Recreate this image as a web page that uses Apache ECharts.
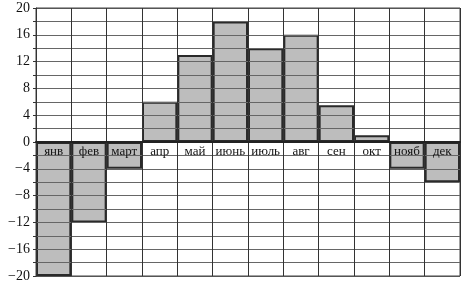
<!DOCTYPE html>
<html><head><meta charset="utf-8">
<script src="https://cdn.jsdelivr.net/npm/echarts@6/dist/echarts.min.js"></script>
<style>html,body{margin:0;padding:0;background:#fff}#c{width:470px;height:283px}</style>
</head><body><div id="c"></div>
<script>
const months = ['янв','фев','март','апр','май','июнь','июль','авг','сен','окт','нояб','дек'];
const temps = [-20, -12, -4, 6, 13, 18, 14, 16, 5.5, 1, -4, -6];
const yMin = -20, yMax = 20, yStep = 2, labelStep = 4;

const gridLevels = [];
for (let v = yMin + yStep; v < yMax; v += yStep) if (v !== 0) gridLevels.push(v);

const serif = 'Liberation Serif, DejaVu Serif, serif';
const chart = echarts.init(document.getElementById('c'));
chart.setOption({
  animation: false,
  grid: {left: 36, right: 10, top: 8, bottom: 7, show: true, borderColor: '#444', borderWidth: 1},
  xAxis: {
    type: 'category', data: months, z: 10,
    axisLine: {onZero: true, lineStyle: {color: '#222', width: 2}},
    axisTick: {show: false},
    splitLine: {show: true, interval: 0, lineStyle: {color: '#333', width: 1}},
    axisLabel: {interval: 0, margin: -131, fontFamily: serif, fontSize: 13, color: '#111', verticalAlign: 'top'}
  },
  yAxis: {
    type: 'value', min: yMin, max: yMax, interval: yStep,
    axisLine: {show: true, lineStyle: {color: '#333', width: 1}},
    axisTick: {show: true, length: 3, lineStyle: {color: '#333'}},
    splitLine: {show: true, lineStyle: {color: '#555', width: 1}},
    axisLabel: {
      margin: 6, fontFamily: serif, fontSize: 14, color: '#111',
      formatter: v => (v % labelStep === 0 ? String(v).replace('-', '\u2212') : '')
    }
  },
  series: [{
    type: 'bar', data: temps, barCategoryGap: '0%', z: 2,
    itemStyle: {color: '#bdbdbd', borderColor: '#2a2a2a', borderWidth: 2}
  }, {
    type: 'line', z: 4, silent: true, symbol: 'none', data: [],
    markLine: {
      silent: true, symbol: ['none', 'none'],
      label: {show: false},
      lineStyle: {color: '#666', width: 1, type: 'solid'},
      data: gridLevels.map(v => ({yAxis: v}))
    }
  }]
});
</script></body></html>
